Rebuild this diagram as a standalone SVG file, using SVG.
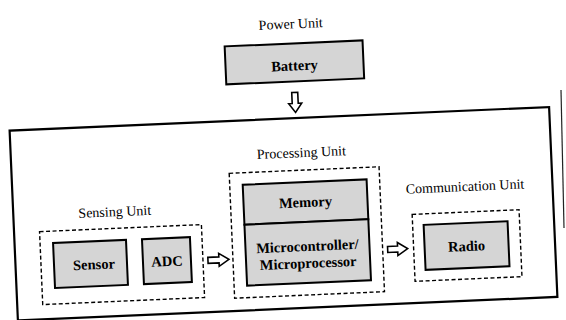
<svg xmlns="http://www.w3.org/2000/svg" width="566" height="320" viewBox="0 0 566 320">
<defs>
<style>
.box{fill:#d5d5d5;stroke:#000;stroke-width:2}
.outer{fill:none;stroke:#000;stroke-width:2.2}
.dash{fill:none;stroke:#000;stroke-width:1.4;stroke-dasharray:4 2.5}
.arrow{fill:#fff;stroke:#000;stroke-width:1.6;stroke-linejoin:miter}
.title{font-family:"Liberation Serif","Times New Roman",serif;font-size:14px;fill:#000;text-anchor:middle}
.lbl{font-family:"Liberation Serif","Times New Roman",serif;font-size:14.5px;font-weight:bold;fill:#000;text-anchor:middle}
</style>
</defs>
<rect width="566" height="320" fill="#fff"/>
<line x1="561" y1="90" x2="564" y2="228" stroke="#222" stroke-width="1.2"/>
<g transform="rotate(-2.5 283.5 213.75)">
  <g id="power-unit">
    <text class="title" x="299" y="29">Power Unit</text>
    <g id="battery">
      <rect class="box" x="232" y="44" width="138" height="38"/>
      <text class="lbl" x="301" y="71">Battery</text>
    </g>
  </g>
  <g id="sensor-node-frame">
    <rect class="outer" x="13.5" y="118.75" width="540" height="190"/>
  </g>
  <g id="sensing-unit">
    <text class="title" x="115" y="209">Sensing Unit</text>
    <rect class="dash" x="39" y="221" width="162" height="73"/>
    <g id="sensor">
      <rect class="box" x="52" y="233" width="73" height="45"/>
      <text class="lbl" x="92" y="261">Sensor</text>
    </g>
    <g id="adc">
      <rect class="box" x="141" y="233" width="48" height="45"/>
      <text class="lbl" x="165" y="261">ADC</text>
    </g>
  </g>
  <g id="processing-unit">
    <text class="title" x="304" y="158">Processing Unit</text>
    <rect class="dash" x="231" y="171" width="150" height="125"/>
    <g id="memory">
      <rect class="box" x="244" y="183" width="124" height="40"/>
      <text class="lbl" x="306" y="208">Memory</text>
    </g>
    <g id="microcontroller">
      <rect class="box" x="244" y="223" width="124" height="61"/>
      <text class="lbl" x="306" y="252">Microcontroller/</text>
      <text class="lbl" x="306" y="269">Microprocessor</text>
    </g>
  </g>
  <g id="communication-unit">
    <text class="title" x="466" y="199">Communication Unit</text>
    <rect class="dash" x="412" y="220" width="107" height="67"/>
    <g id="radio">
      <rect class="box" x="423" y="231" width="84" height="45"/>
      <text class="lbl" x="465" y="259">Radio</text>
    </g>
  </g>
  <g id="connectors">
    <polygon class="arrow" points="297,93 303,93 303,104 306.5,104 300,113 293.5,104 297,104"/>
    <polygon class="arrow" points="206,254 217,254 217,250.5 227,257 217,263.5 217,260 206,260"/>
    <polygon class="arrow" points="386,251 396,251 396,247.5 406,254 396,260.5 396,257 386,257"/>
  </g>
</g>
</svg>
